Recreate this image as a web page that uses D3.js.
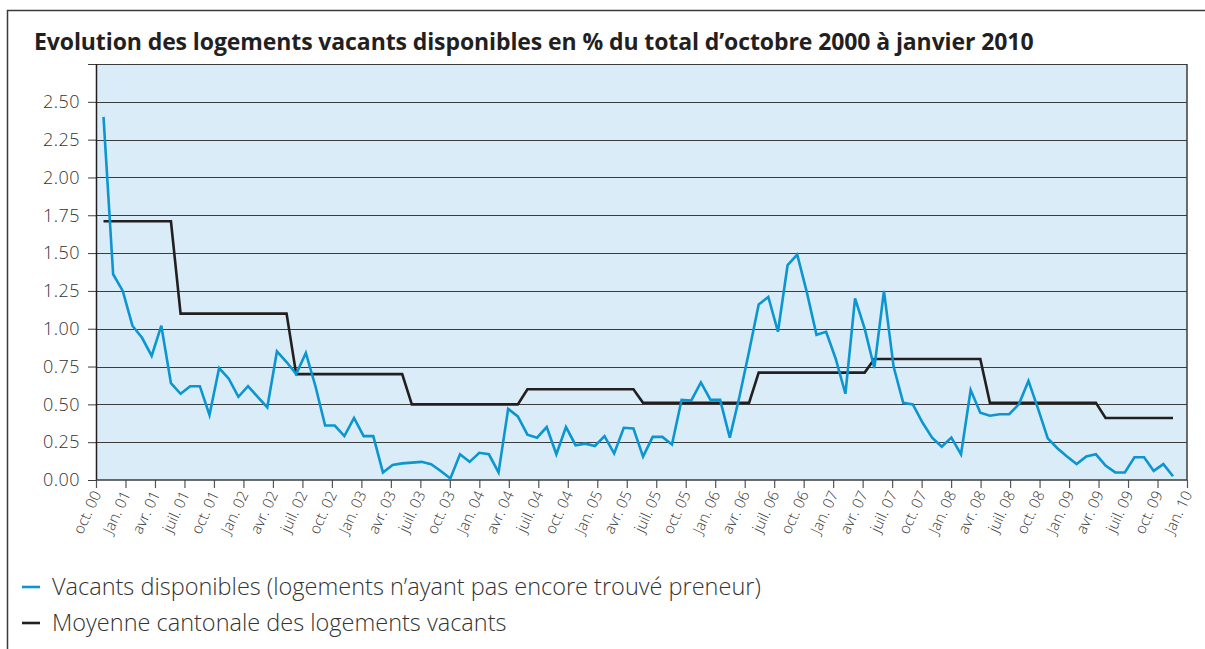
<!DOCTYPE html>
<html>
<head>
<meta charset="utf-8">
<script src="https://cdn.jsdelivr.net/npm/d3@7"></script>
<style>
  html, body { margin: 0; padding: 0; background: #fff; }
  #chart { width: 1205px; height: 649px; }
  svg text { font-family: "Open Sans", "Noto Sans", sans-serif; }
</style>
</head>
<body>
<div id="chart"></div>
<script>
// --- data ---
const title = "Evolution des logements vacants disponibles en % du total d’octobre 2000 à janvier 2010";

const seriesNames = [
    "Vacants disponibles (logements n’ayant pas encore trouvé preneur)",
    "Moyenne cantonale des logements vacants"
];

// monthly, oct. 2000 -> jan. 2010
const vacants = [
    2.40, 1.36, 1.25, 1.02, 0.94, 0.82, 1.02, 0.64, 0.57, 0.62, 0.62, 0.43,
    0.74, 0.67, 0.55, 0.62, 0.55, 0.48, 0.85, 0.78, 0.70, 0.84, 0.62, 0.36,
    0.36, 0.29, 0.41, 0.29, 0.29, 0.05, 0.10, 0.11, 0.115, 0.12, 0.105, 0.06,
    0.01, 0.17, 0.12, 0.18, 0.17, 0.05, 0.47, 0.42, 0.30, 0.28, 0.35, 0.17,
    0.35, 0.23, 0.24, 0.225, 0.29, 0.175, 0.345, 0.34, 0.155, 0.285, 0.285, 0.235,
    0.53, 0.525, 0.645, 0.53, 0.53, 0.28, 0.55, 0.85, 1.16, 1.21, 0.98, 1.42,
    1.49, 1.24, 0.96, 0.98, 0.80, 0.57, 1.20, 1.00, 0.74, 1.25, 0.75, 0.51,
    0.50, 0.38, 0.28, 0.22, 0.28, 0.17, 0.595, 0.445, 0.425, 0.435, 0.435, 0.50,
    0.655, 0.47, 0.275, 0.21, 0.155, 0.105, 0.155, 0.17, 0.095, 0.05, 0.05, 0.15,
    0.15, 0.06, 0.105, 0.025
];

const moyenne = [
    1.71, 1.71, 1.71, 1.71, 1.71, 1.71, 1.71, 1.71,
    1.10, 1.10, 1.10, 1.10, 1.10, 1.10, 1.10, 1.10, 1.10, 1.10, 1.10, 1.10,
    0.70, 0.70, 0.70, 0.70, 0.70, 0.70, 0.70, 0.70, 0.70, 0.70, 0.70, 0.70,
    0.50, 0.50, 0.50, 0.50, 0.50, 0.50, 0.50, 0.50, 0.50, 0.50, 0.50, 0.50,
    0.60, 0.60, 0.60, 0.60, 0.60, 0.60, 0.60, 0.60, 0.60, 0.60, 0.60, 0.60,
    0.51, 0.51, 0.51, 0.51, 0.51, 0.51, 0.51, 0.51, 0.51, 0.51, 0.51, 0.51,
    0.71, 0.71, 0.71, 0.71, 0.71, 0.71, 0.71, 0.71, 0.71, 0.71, 0.71, 0.71,
    0.80, 0.80, 0.80, 0.80, 0.80, 0.80, 0.80, 0.80, 0.80, 0.80, 0.80, 0.80,
    0.51, 0.51, 0.51, 0.51, 0.51, 0.51, 0.51, 0.51, 0.51, 0.51, 0.51, 0.51,
    0.41, 0.41, 0.41, 0.41, 0.41, 0.41, 0.41, 0.41
];

const xTickLabels = [
    "oct. 00",
    "Jan. 01", "avr. 01", "juil. 01", "oct. 01",
    "Jan. 02", "avr. 02", "juil. 02", "oct. 02",
    "Jan. 03", "avr. 03", "juil. 03", "oct. 03",
    "Jan. 04", "avr. 04", "juil. 04", "oct. 04",
    "Jan. 05", "avr. 05", "juil. 05", "oct. 05",
    "Jan. 06", "avr. 06", "juil. 06", "oct. 06",
    "Jan. 07", "avr. 07", "juil. 07", "oct. 07",
    "Jan. 08", "avr. 08", "juil. 08", "oct. 08",
    "Jan. 09", "avr. 09", "juil. 09", "oct. 09",
    "Jan. 10"
];

const yTicks = [0, 0.25, 0.5, 0.75, 1, 1.25, 1.5, 1.75, 2, 2.25, 2.5, 2.75];
const yLabelMax = 2.5;

const colors = ["#0b96d2", "#231f20"];

// --- layout ---
const W = 1205, H = 649;
const margin = { top: 64, right: 18, bottom: 169, left: 96 };
const innerW = W - margin.left - margin.right;
const innerH = H - margin.top - margin.bottom;

const svg = d3.select("#chart").append("svg")
    .attr("width", W)
    .attr("height", H);

svg.append("rect").attr("width", W).attr("height", H).attr("fill", "#fff");

// outer frame (top + left only)
svg.append("path")
    .attr("d", `M7.5,${H} V10.5 H${W}`)
    .attr("fill", "none")
    .attr("stroke", "#3a3a3a")
    .attr("stroke-width", 1.5);

svg.append("text")
    .attr("x", 34)
    .attr("y", 50)
    .attr("font-size", 23)
    .attr("font-weight", 700)
    .attr("letter-spacing", -0.1)
    .attr("fill", "#231f20")
    .text(title);

const g = svg.append("g")
    .attr("transform", `translate(${margin.left},${margin.top})`);

const y = d3.scaleLinear()
    .domain([0, d3.max(yTicks)])
    .range([innerH, 0]);

// axis ticks are quarterly, the monthly points sit on their own scale
const xTick = d3.scaleLinear()
    .domain([0, xTickLabels.length - 1])
    .range([0, innerW]);

const x = d3.scaleLinear()
    .domain([0, vacants.length - 1])
    .range([7.5, innerW - 14]);

g.append("rect")
    .attr("width", innerW)
    .attr("height", innerH)
    .attr("fill", "#d9ecf7");

// grid
g.append("g")
    .selectAll("line")
    .data(yTicks.filter(d => d > 0))
    .join("line")
    .attr("x1", 0)
    .attr("x2", innerW)
    .attr("y1", d => Math.round(y(d)) + 0.5)
    .attr("y2", d => Math.round(y(d)) + 0.5)
    .attr("stroke", "#3c3c3c")
    .attr("stroke-width", 1);

// y axis
const yAxis = d3.axisLeft(y)
    .tickValues(yTicks)
    .tickSize(8)
    .tickPadding(8)
    .tickFormat(d => d <= yLabelMax ? d3.format(".2f")(d) : "");

const gy = g.append("g").call(yAxis);
gy.select(".domain").remove();
gy.selectAll(".tick line").attr("stroke", "#3c3c3c");
gy.selectAll(".tick text")
    .attr("font-size", 18)
    .attr("font-weight", 300)
    .attr("letter-spacing", 0.5)
    .attr("fill", "#333")
    .attr("font-family", "\"Open Sans\", sans-serif");

// x axis
const xAxis = d3.axisBottom(xTick)
    .tickValues(d3.range(xTickLabels.length))
    .tickSize(8)
    .tickFormat(i => xTickLabels[i]);

const gx = g.append("g")
    .attr("transform", `translate(0,${innerH})`)
    .call(xAxis);
gx.select(".domain").remove();
gx.selectAll(".tick line").attr("stroke", "#555").attr("stroke-width", 1.2);
gx.selectAll(".tick text")
    .attr("font-size", 15)
    .attr("font-weight", 300)
    .attr("fill", "#333")
    .attr("font-family", "\"Open Sans\", sans-serif")
    .attr("text-anchor", "end")
    .attr("dy", null)
    .attr("transform", "translate(5,14) rotate(-65)")
    .attr("y", 0)
    .attr("x", 0);

// frame of the plot
g.append("line").attr("x1", 0.5).attr("x2", 0.5).attr("y1", 0).attr("y2", innerH)
    .attr("stroke", "#231f20").attr("stroke-width", 1.5);
g.append("line").attr("x1", innerW).attr("x2", innerW).attr("y1", 0).attr("y2", innerH)
    .attr("stroke", "#3c3c3c").attr("stroke-width", 1.5);
g.append("line").attr("x1", 0).attr("x2", innerW).attr("y1", innerH).attr("y2", innerH)
    .attr("stroke", "#3c3c3c").attr("stroke-width", 1.5);

// series
const line = d3.line()
    .x((d, i) => x(i))
    .y(d => y(d));

g.append("path")
    .datum(moyenne)
    .attr("fill", "none")
    .attr("stroke", colors[1])
    .attr("stroke-width", 2.6)
    .attr("stroke-linejoin", "miter")
    .attr("d", line);

g.append("path")
    .datum(vacants)
    .attr("fill", "none")
    .attr("stroke", colors[0])
    .attr("stroke-width", 2.6)
    .attr("stroke-linejoin", "miter")
    .attr("d", line);

// legend
const legend = svg.append("g").attr("transform", "translate(22,587)");
const item = legend.selectAll("g")
    .data(seriesNames)
    .join("g")
    .attr("transform", (d, i) => `translate(0,${i * 36})`);

item.append("line")
    .attr("x1", 0).attr("x2", 18)
    .attr("stroke", (d, i) => colors[i])
    .attr("stroke-width", 2.6);

item.append("text")
    .attr("x", 30)
    .attr("dy", "0.35em")
    .attr("font-size", 23.5)
    .attr("font-weight", 300)
    .attr("fill", "#333")
    .text(d => d);
</script>
</body>
</html>
